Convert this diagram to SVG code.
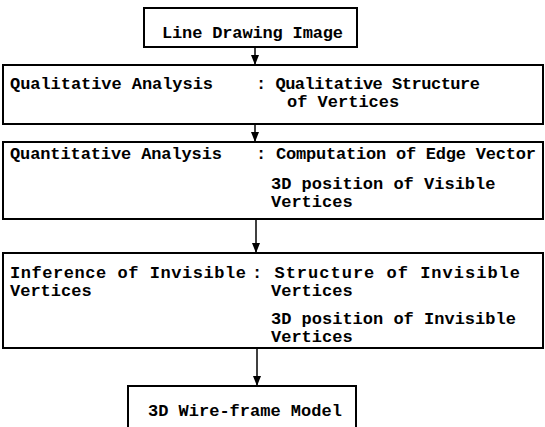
<svg xmlns="http://www.w3.org/2000/svg" width="545" height="427" viewBox="0 0 545 427">
<style>
.b{fill:#fff;stroke:#000;stroke-width:2}
.t{font-family:"Liberation Mono","DejaVu Sans Mono",monospace;font-size:17px;fill:#000;font-weight:bold}
.c{stroke:#000;stroke-width:1.5;fill:none}
</style>
<defs>
<marker id="ah" viewBox="0 0 10 10" refX="10" refY="5" markerWidth="7" markerHeight="7" orient="auto">
<path d="M0,1 L10,5 L0,9 Z" fill="#000"/>
</marker>
</defs>
<rect width="545" height="427" fill="#fff"/>
<g id="connectors">
<line class="c" x1="255" y1="47" x2="255" y2="65" marker-end="url(#ah)"/>
<line class="c" x1="255" y1="124" x2="255" y2="142" marker-end="url(#ah)"/>
<line class="c" x1="256" y1="219" x2="256" y2="253" marker-end="url(#ah)"/>
<line class="c" x1="257" y1="348" x2="257" y2="386" marker-end="url(#ah)"/>
</g>
<g id="n1">
<rect class="b" x="144" y="8" width="213" height="39"/>
<text class="t" x="162" y="38" textLength="181">Line Drawing Image</text>
</g>
<g id="n2">
<rect class="b" x="3" y="65" width="540" height="59"/>
<text class="t" x="10" y="89" textLength="203">Qualitative Analysis</text>
<text class="t" x="256" y="89" textLength="224">: Qualitative Structure</text>
<text class="t" x="287" y="107">of  Vertices</text>
</g>
<g id="n3">
<rect class="b" x="3" y="142" width="540" height="77"/>
<text class="t" x="10" y="159" textLength="212">Quantitative Analysis</text>
<text class="t" x="256" y="159" textLength="280">: Computation of Edge Vector</text>
<text class="t" x="271" y="189">3D position of Visible</text>
<text class="t" x="271" y="207">Vertices</text>
</g>
<g id="n4">
<rect class="b" x="3" y="253" width="540" height="95"/>
<text class="t" x="10" y="278" textLength="236">Inference of Invisible</text>
<text class="t" x="252" y="278" textLength="268">: Structure of Invisible</text>
<text class="t" x="10" y="296">Vertices</text>
<text class="t" x="271" y="296">Vertices</text>
<text class="t" x="271" y="324">3D position of Invisible</text>
<text class="t" x="271" y="342">Vertices</text>
</g>
<g id="n5">
<rect class="b" x="128" y="386" width="228" height="50"/>
<text class="t" x="148" y="416">3D Wire-frame Model</text>
</g>
</svg>
